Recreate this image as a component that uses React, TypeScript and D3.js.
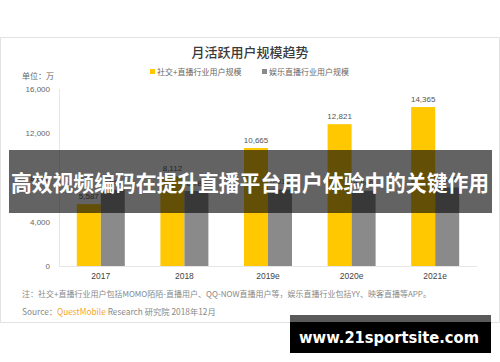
import React from "react";
import * as d3 from "d3";

// 月活跃用户规模趋势 (单位：万)
const years = ["2017", "2018", "2019e", "2020e", "2021e"];
const seriesNames = ["社交+直播行业用户规模", "娱乐直播行业用户规模"];
const socialLive = [5587, 8112, 10665, 12821, 14365];
const entLive = [6882, 6780, 6916, 6800, 7100];
const yTicks = [0, 4000, 8000, 12000, 16000];

const colors = ["#FFC800", "#8A8A8A"];
const fontCN = "'Noto Sans CJK SC', 'Noto Sans', sans-serif";
const fontNum = "'Liberation Sans', Arial, sans-serif";

export default function App() {
  const width = 500;
  const height = 362;

  const x = d3.scaleBand<string>().domain(years).range([59, 477]);
  const x1 = d3.scaleBand<string>().domain(seriesNames).range([0, 48]);
  const y = d3.scaleLinear().domain([0, 16000]).range([266, 89]);
  const fmt = d3.format(",");

  const rows = [socialLive, entLive];

  return (
    <svg
      width={width}
      height={height}
      style={{ position: "fixed", left: 0, top: 0, background: "#fff" }}
    >
      {/* card */}
      <rect x={0.5} y={37.5} width={499} height={285} fill="#fff" stroke="#e2e2e2" />

      <text x={250} y={57} textAnchor="middle" fontFamily={fontCN} fontSize={13} fontWeight={500} fill="#3a3a3a">
        月活跃用户规模趋势
      </text>

      {/* legend */}
      {seriesNames.map((name, i) => {
        const lx = i === 0 ? 150 : 262;
        return (
          <g key={name} transform={`translate(${lx},72)`}>
            <rect x={0} y={-3} width={5} height={5} fill={colors[i]} />
            <text x={7} y={3} fontFamily={fontCN} fontSize={8} fill="#666">
              {name}
            </text>
          </g>
        );
      })}

      <text x={54} y={79} textAnchor="end" fontFamily={fontCN} fontSize={8} fill="#666">
        单位：万
      </text>

      {/* y axis */}
      <line x1={59.5} x2={59.5} y1={y(16000)} y2={y(0)} stroke="#e6e6e6" />
      {yTicks.map((t) => (
        <text key={t} x={50} y={y(t) + 3} textAnchor="end" fontFamily={fontNum} fontSize={8} fill="#666">
          {fmt(t)}
        </text>
      ))}
      <line x1={59} x2={477} y1={y(0) + 0.5} y2={y(0) + 0.5} stroke="#e6e6e6" />

      {/* bars */}
      {years.map((yr, j) => {
        const cx = (x(yr) ?? 0) + x.bandwidth() / 2 - 24;
        return (
          <g key={yr} transform={`translate(${cx},0)`}>
            {rows.map((vals, i) => {
              const bx = x1(seriesNames[i]) ?? 0;
              return (
                <g key={i}>
                  <rect x={bx} y={y(vals[j])} width={x1.bandwidth()} height={y(0) - y(vals[j])} fill={colors[i]} />
                  <text
                    x={bx + x1.bandwidth() / 2}
                    y={y(vals[j]) - 5}
                    textAnchor="middle"
                    fontFamily={fontNum}
                    fontSize={8}
                    fill="#555"
                  >
                    {fmt(vals[j])}
                  </text>
                </g>
              );
            })}
            <text x={24} y={279} textAnchor="middle" fontFamily={fontNum} fontSize={8.5} fill="#444">
              {yr}
            </text>
          </g>
        );
      })}

      {/* notes */}
      <text x={22} y={297} fontFamily={fontCN} fontSize={8} fill="#888">
        注：社交+直播行业用户包括MOMO陌陌-直播用户、QQ-NOW直播用户等，娱乐直播行业包括YY、映客直播等APP。
      </text>
      <text x={22} y={315} fontFamily={fontCN} fontSize={8.3} fill="#888">
        Source：<tspan fill="#F5A623">QuestMobile</tspan> Research 研究院 2018年12月
      </text>

      {/* overlay banner */}
      <rect x={9} y={150} width={483} height={63} fill="rgba(8,8,8,0.63)" />
      <text
        x={250}
        y={191}
        textAnchor="middle"
        fontFamily={fontCN}
        fontSize={21.6}
        fontWeight={700}
        fill="#fff"
        textLength={478}
        lengthAdjust="spacingAndGlyphs"
      >
        高效视频编码在提升直播平台用户体验中的关键作用
      </text>

      {/* watermark */}
      <rect x={290} y={315} width={201} height={38} fill="#000" />
      <rect x={290} y={315} width={201} height={7} fill="#5a5a5a" />
      <text
        x={389}
        y={343}
        textAnchor="middle"
        fontFamily="'DejaVu Sans', sans-serif"
        fontSize={15}
        fontWeight={700}
        fill="#fff"
        textLength={180}
        lengthAdjust="spacingAndGlyphs"
      >
        www.21sportsite.com
      </text>
    </svg>
  );
}
